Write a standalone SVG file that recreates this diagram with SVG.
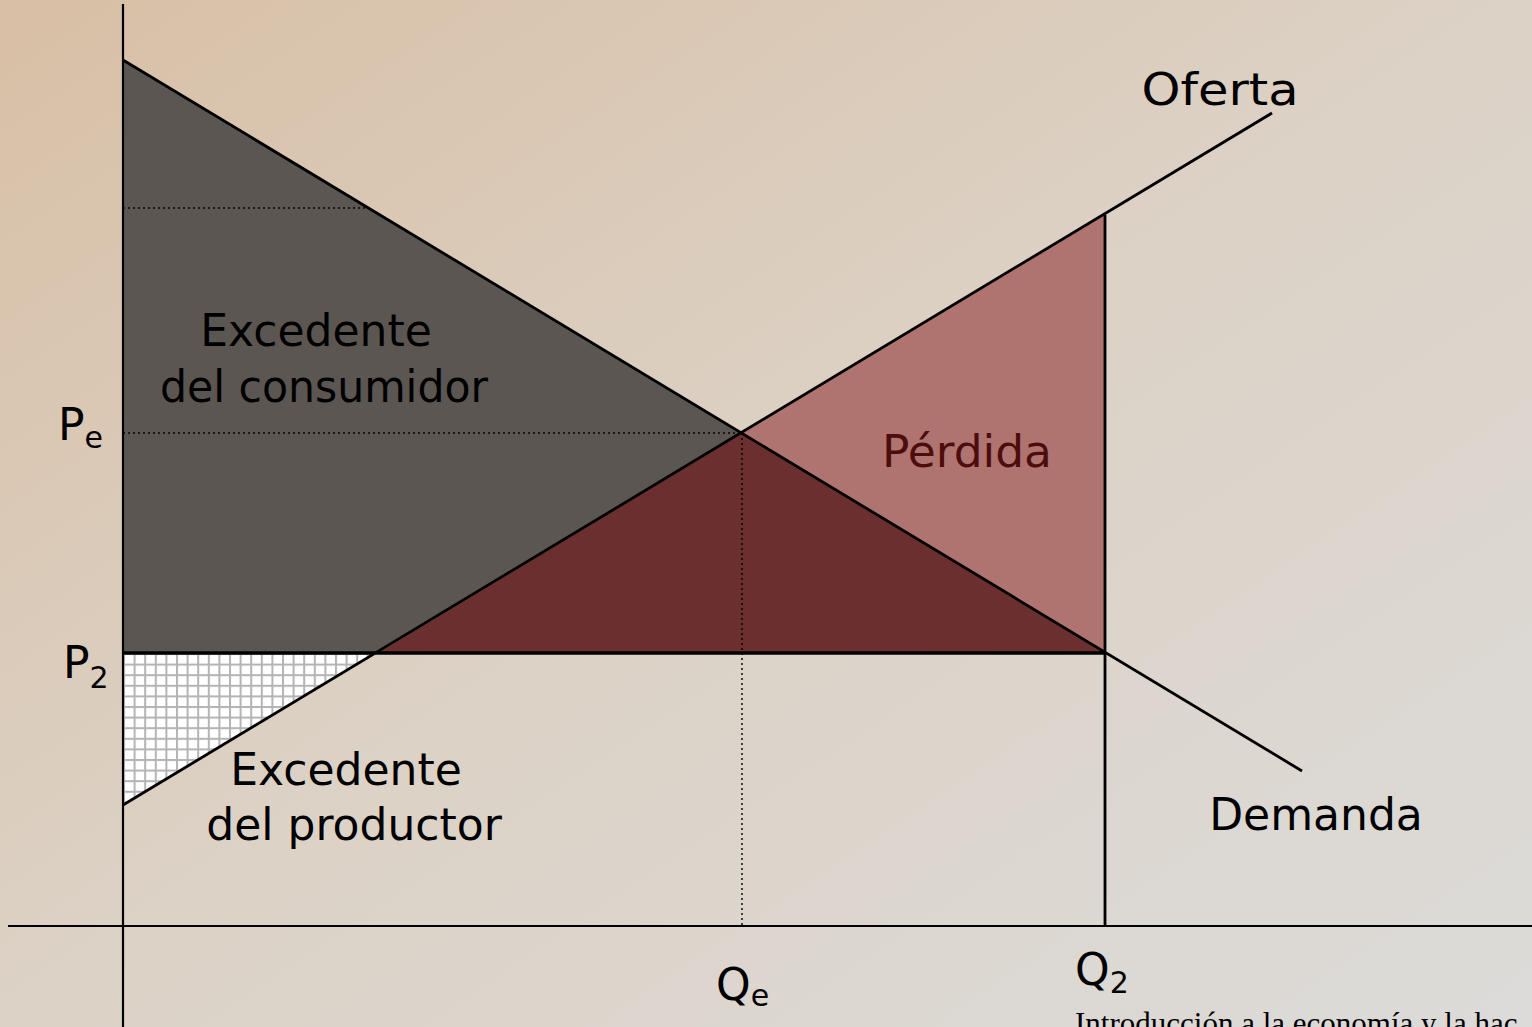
<svg xmlns="http://www.w3.org/2000/svg" width="1532" height="1027" viewBox="0 0 1532 1027">
<style>
.lbl{font-family:"DejaVu Sans",sans-serif;font-size:44px;fill:#000}
.sub{font-family:"DejaVu Sans",sans-serif;font-size:30px;fill:#000}
.ln{stroke:#000;stroke-width:2.8;fill:none}
.ax{stroke:#000;stroke-width:2.2;fill:none}
.dot{stroke:#000;stroke-width:2;stroke-dasharray:2 3;fill:none;opacity:0.7}
</style>
<defs>
<linearGradient id="bg" x1="0" y1="0" x2="1" y2="1">
<stop offset="0" stop-color="#d8bfa5"/>
<stop offset="0.5" stop-color="#dcd2c6"/>
<stop offset="1" stop-color="#dcdbd9"/>
</linearGradient>
<pattern id="grid" width="10.6" height="10.6" patternUnits="userSpaceOnUse" x="123" y="653">
<rect width="10.6" height="10.6" fill="#b4b4b4"/>
<rect x="2" y="2" width="8.6" height="8.6" fill="#ffffff"/>
</pattern>
</defs>
<rect width="1532" height="1027" fill="url(#bg)"/>
<g id="areas">
<polygon id="consumer-surplus" points="123,60 742,433 378,653 123,653" fill="#5b5651"/>
<polygon id="producer-surplus" points="123,653 378,653 123,805" fill="url(#grid)"/>
<polygon id="transfer" points="378,653 742,433 1105,653" fill="#6b2f2f"/>
<polygon id="loss" points="742,433 1105,215 1105,653" fill="#b07470"/>
</g>
<g id="connectors">
<line class="ax" x1="123" y1="4" x2="123" y2="1027"/>
<line class="ax" x1="8" y1="926" x2="1532" y2="926"/>
<line id="demanda" class="ln" x1="123" y1="60" x2="1302" y2="771"/>
<line id="oferta" class="ln" x1="123" y1="805" x2="1272" y2="113"/>
<line class="dot" x1="123" y1="208" x2="368" y2="208"/>
<line class="dot" x1="123" y1="433" x2="742" y2="433"/>
<line class="dot" x1="742" y1="433" x2="742" y2="926"/>
<line class="ln" x1="1105" y1="215" x2="1105" y2="926"/>
<line stroke="#000" stroke-width="3.5" x1="123" y1="653" x2="1105" y2="653"/>
</g>
<g id="labels">
<text class="lbl" x="1220" y="105" text-anchor="middle" textLength="157" lengthAdjust="spacingAndGlyphs">Oferta</text>
<text class="lbl" x="316" y="346" text-anchor="middle">Excedente</text>
<text class="lbl" x="324" y="402" text-anchor="middle" textLength="328" lengthAdjust="spacingAndGlyphs">del consumidor</text>
<text class="lbl" x="967" y="467" text-anchor="middle" style="fill:#4d0d0d" textLength="170" lengthAdjust="spacingAndGlyphs">Pérdida</text>
<text class="lbl" x="346" y="785" text-anchor="middle">Excedente</text>
<text class="lbl" x="354" y="840" text-anchor="middle">del productor</text>
<text class="lbl" x="1316" y="830" text-anchor="middle">Demanda</text>
<text class="lbl" x="58" y="440">P<tspan class="sub" dy="8">e</tspan></text>
<text class="lbl" x="63" y="678">P<tspan class="sub" dy="10">2</tspan></text>
<text class="lbl" x="716" y="1000">Q<tspan class="sub" dy="6">e</tspan></text>
<text class="lbl" x="1075" y="985">Q<tspan class="sub" dy="8">2</tspan></text>
<text x="1075" y="1034" font-family="Liberation Serif,serif" font-size="31" fill="#000">Introducción a la economía y la hac</text>
</g>
</svg>
